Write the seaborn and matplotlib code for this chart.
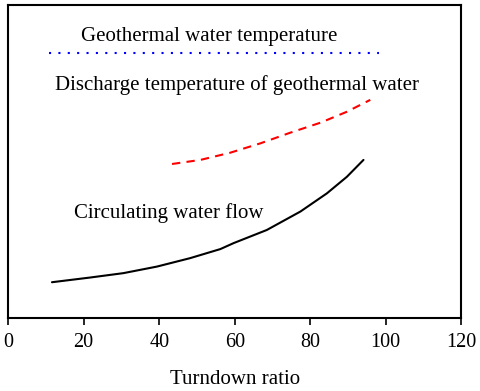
import matplotlib
matplotlib.use("Agg")
import matplotlib.pyplot as plt
import seaborn as sns
import pandas as pd

# values (y axis has no scale, arbitrary units 0-100)
flow_x = [11.6, 21.7, 30.5, 39.4, 48.2, 56.2, 59.7, 68.5, 77.4, 84.4, 89.7, 94.1]
flow_y = [11.4, 12.9, 14.3, 16.4, 19.1, 22.0, 23.9, 28.1, 34.0, 39.8, 45.1, 50.5]

discharge_x = [43.4, 50.9, 58.8, 66.8, 74.7, 82.7, 89.7, 95.9]
discharge_y = [49.2, 50.5, 52.8, 55.8, 59.2, 62.4, 65.9, 69.7]

geo_x = [10.9, 98.3]
geo_y = [84.7, 84.7]

x_ticks = [0, 20, 40, 60, 80, 100, 120]


def setup_style():
    sns.set_theme(style="ticks")
    plt.rcParams["font.family"] = ["Liberation Serif", "DejaVu Serif"]
    plt.rcParams["text.color"] = "black"
    plt.rcParams["axes.labelcolor"] = "black"
    plt.rcParams["xtick.color"] = "black"


def plot_chart(save_path="out.png"):
    setup_style()
    fig, ax = plt.subplots(figsize=(4.8, 3.91), dpi=100)

    flow = pd.DataFrame({"x": flow_x, "y": flow_y})
    disc = pd.DataFrame({"x": discharge_x, "y": discharge_y})
    geo = pd.DataFrame({"x": geo_x, "y": geo_y})

    sns.lineplot(data=flow, x="x", y="y", ax=ax, color="black", linewidth=1.5)
    sns.lineplot(data=disc, x="x", y="y", ax=ax, color="red", linewidth=1.5,
                 linestyle=(0, (4, 3)))
    sns.lineplot(data=geo, x="x", y="y", ax=ax, color="blue", linewidth=1.5,
                 linestyle=(0, (1, 3.5)))

    ax.text(53.2, 89.8, "Geothermal water temperature", ha="center", va="center", fontsize=15)
    ax.text(60.7, 74.4, "Discharge temperature of geothermal water", ha="center", va="center", fontsize=15)
    ax.text(42.6, 33.5, "Circulating water flow", ha="center", va="center", fontsize=15)

    ax.set_xlim(0, 120)
    ax.set_ylim(0, 100)
    ax.set_xticks(x_ticks)
    ax.set_yticks([])
    ax.set_xlabel("Turndown ratio", fontsize=15, labelpad=13)
    ax.set_ylabel("")
    ax.tick_params(axis="x", labelsize=14.5, length=5, width=1.2, pad=6, direction="out")
    for s in ax.spines.values():
        s.set_visible(True)
        s.set_color("black")
        s.set_linewidth(1.5)

    fig.subplots_adjust(left=0.017, right=0.961, top=0.987, bottom=0.187)
    fig.savefig(save_path, dpi=100)
    plt.close(fig)


plot_chart()
